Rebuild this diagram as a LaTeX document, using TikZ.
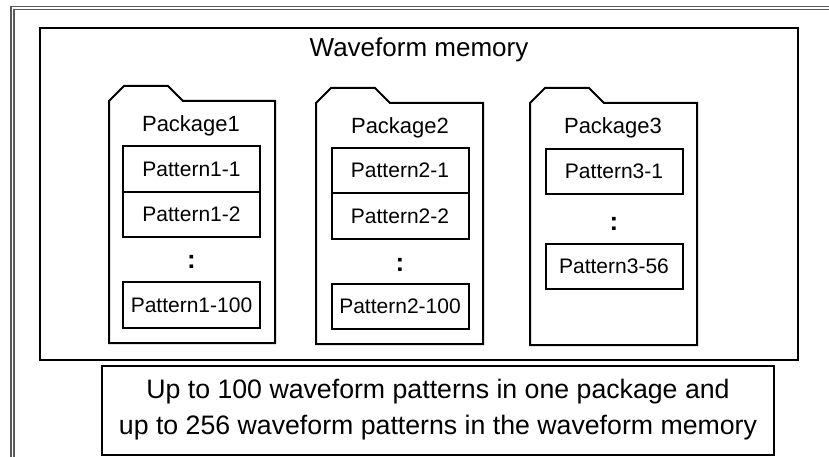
\documentclass[tikz,border=0pt]{standalone}
\usepackage{fontspec}
\setmainfont{Liberation Sans}
\usetikzlibrary{positioning}

\tikzset{
  patbox/.style={draw, line width=2pt, outer sep=0pt, inner sep=0pt,
    minimum width=137pt, minimum height=45.5pt, font=\fontsize{21}{24}\selectfont},
  pkglabel/.style={font=\fontsize{22}{25}\selectfont},
  vdots/.style={font=\bfseries\fontsize{26}{26}\selectfont, inner sep=0pt},
  folder/.style={draw, line width=2pt, line join=miter},
}

% folder outline: left, tab top, right, bottom
\newcommand{\pkgfolder}[4]{%
  \draw[folder] (#1,#2+15) -- (#1+15,#2) -- (#1+59,#2) -- (#1+74,#2+15)
    -- (#3,#2+15) -- (#3,#4) -- (#1,#4) -- cycle;}

\begin{document}
\begin{tikzpicture}[x=1pt,y=-1pt]
  \useasboundingbox (0,0) rectangle (829,457);
  % outer frame (double line)
  \draw[gray!70!black, line width=1.2pt] (11,457) -- (11,6.5) -- (829,6.5);
  \draw[gray!70!black, line width=1.2pt] (14,457) -- (14,9.5) -- (829,9.5);

  % waveform memory
  \draw[line width=2pt] (40,28) rectangle (798,360);
  \node[font=\fontsize{26}{30}\selectfont] (mem) at (419,50) {Waveform memory};

  % packages
  \pkgfolder{109}{86}{275}{343}
  \pkgfolder{316}{88}{483}{344}
  \pkgfolder{530}{88}{697}{345}

  \node[pkglabel] (pkg1) at (191,126) {Package1};
  \node[pkglabel] (pkg2) at (400,128) {Package2};
  \node[pkglabel] (pkg3) at (613,128) {Package3};

  \node[patbox] (p1a) at (191.5,169) {Pattern1-1};
  \node[patbox, below=0pt of p1a] (p1b) {Pattern1-2};
  \node[vdots] (p1d) at (191.5,262) {:};
  \node[patbox] (p1z) at (191.5,305) {Pattern1-100};

  \node[patbox] (p2a) at (400,170.5) {Pattern2-1};
  \node[patbox, below=0pt of p2a] (p2b) {Pattern2-2};
  \node[vdots] (p2d) at (400,265) {:};
  \node[patbox] (p2z) at (400,306.5) {Pattern2-100};

  \node[patbox] (p3a) at (614,171.5) {Pattern3-1};
  \node[vdots] (p3d) at (614,224) {:};
  \node[patbox] (p3z) at (614,266.5) {Pattern3-56};

  % note
  \draw[line width=2pt] (102,366) rectangle (774,455);
  \node[font=\fontsize{26.7}{36}\selectfont, align=center] (note) at (438,410)
    {Up to 100 waveform patterns in one package and\\
     up to 256 waveform patterns in the waveform memory};
\end{tikzpicture}
\end{document}
